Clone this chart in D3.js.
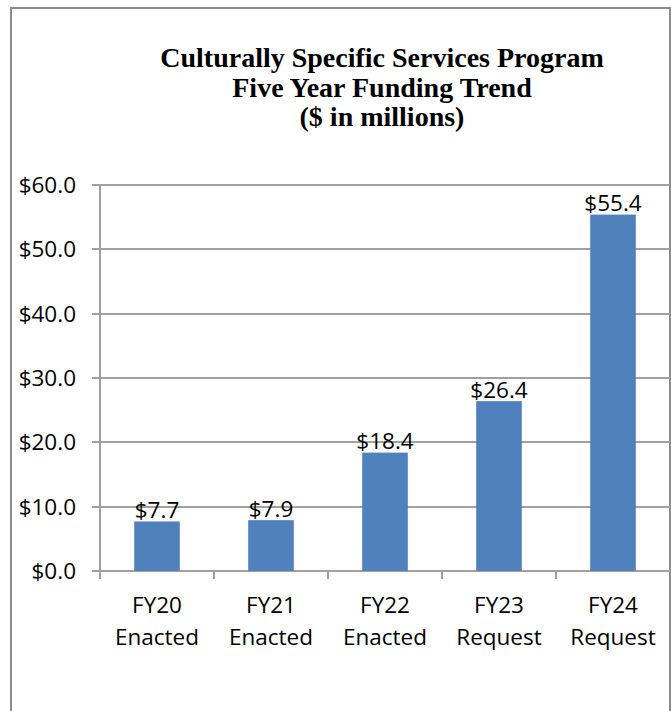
<!DOCTYPE html>
<html>
<head>
<meta charset="utf-8">
<script src="https://cdn.jsdelivr.net/npm/d3@7"></script>
<style>
  body { margin: 0; background: #fff; }
  svg { display: block; }
</style>
</head>
<body>
<div id="chart"><svg></svg></div>
<script>
// chart data
var titleLines = ["Culturally Specific Services Program", "Five Year Funding Trend", "($ in millions)"];
var years = ["FY20", "FY21", "FY22", "FY23", "FY24"];
var stages = ["Enacted", "Enacted", "Enacted", "Request", "Request"];
var funding = [7.7, 7.9, 18.4, 26.4, 55.4];
var yTicks = [0, 10, 20, 30, 40, 50, 60];

var width = 671, height = 711;
var labelFont = "Open Sans, sans-serif";
var gridColor = "#a0a0a0";

var svg = d3.select("#chart").select("svg")
    .attr("width", width)
    .attr("height", height);

// outer frame
svg.append("rect")
    .attr("x", 11).attr("y", 8)
    .attr("width", 659).attr("height", 740)
    .attr("fill", "none")
    .attr("stroke", "#8c8c8c")
    .attr("stroke-width", 2);

svg.append("text")
    .attr("x", 382).attr("y", 67)
    .attr("text-anchor", "middle")
    .attr("font-family", "Liberation Serif, Times New Roman, serif")
    .attr("font-weight", "bold")
    .attr("font-size", 28)
    .selectAll("tspan")
    .data(titleLines)
    .enter()
    .append("tspan")
    .attr("x", 382)
    .attr("dy", function (d, i) { return i === 0 ? 0 : 29.5; })
    .text(function (d) { return d; });

var x = d3.scaleBand()
    .domain(years)
    .range([100, 670]);

var y = d3.scaleLinear()
    .domain([0, 60])
    .range([571, 185]);

var barW = x.bandwidth() * 0.4;

// gridlines
svg.append("g")
    .selectAll("line")
    .data(yTicks)
    .enter()
    .append("line")
    .attr("x1", 92).attr("x2", 670)
    .attr("y1", function (d) { return Math.round(y(d)); })
    .attr("y2", function (d) { return Math.round(y(d)); })
    .attr("stroke", gridColor)
    .attr("stroke-width", 2);

// y labels
svg.append("g")
    .selectAll("text")
    .data(yTicks)
    .enter()
    .append("text")
    .attr("x", 76)
    .attr("y", function (d) { return y(d); })
    .attr("dy", "0.36em")
    .attr("text-anchor", "end")
    .attr("font-family", labelFont)
    .attr("font-size", 22.5)
    .attr("fill", "#000")
    .text(function (d) { return "$" + d3.format(".1f")(d); });

// y axis line
svg.append("line")
    .attr("x1", 100).attr("x2", 100)
    .attr("y1", 185).attr("y2", 579)
    .attr("stroke", gridColor)
    .attr("stroke-width", 2);

// category tick marks
svg.append("g")
    .selectAll("line")
    .data(years)
    .enter()
    .append("line")
    .attr("x1", function (d) { return Math.round(x(d)); })
    .attr("x2", function (d) { return Math.round(x(d)); })
    .attr("y1", 571).attr("y2", 579)
    .attr("stroke", gridColor)
    .attr("stroke-width", 2);

// bars
svg.append("g")
    .selectAll("rect")
    .data(funding)
    .enter()
    .append("rect")
    .attr("x", function (d, i) { return x(years[i]) + (x.bandwidth() - barW) / 2; })
    .attr("y", function (d) { return y(d); })
    .attr("width", barW)
    .attr("height", function (d) { return y(0) - y(d); })
    .attr("fill", "#4f81bd");

// value labels
svg.append("g")
    .selectAll("text")
    .data(funding)
    .enter()
    .append("text")
    .attr("x", function (d, i) { return x(years[i]) + x.bandwidth() / 2; })
    .attr("y", function (d) { return y(d) - 3.5; })
    .attr("text-anchor", "middle")
    .attr("font-family", labelFont)
    .attr("font-size", 22.5)
    .text(function (d) { return "$" + d3.format(".1f")(d); });

// category labels
var cat = svg.append("g")
    .selectAll("text")
    .data(years)
    .enter()
    .append("text")
    .attr("text-anchor", "middle")
    .attr("font-family", labelFont)
    .attr("font-size", 22.5);

cat.append("tspan")
    .attr("x", function (d) { return x(d) + x.bandwidth() / 2; })
    .attr("y", 613)
    .text(function (d) { return d; });

cat.append("tspan")
    .attr("x", function (d) { return x(d) + x.bandwidth() / 2; })
    .attr("y", 645)
    .text(function (d, i) { return stages[i]; });
</script>
</body>
</html>
